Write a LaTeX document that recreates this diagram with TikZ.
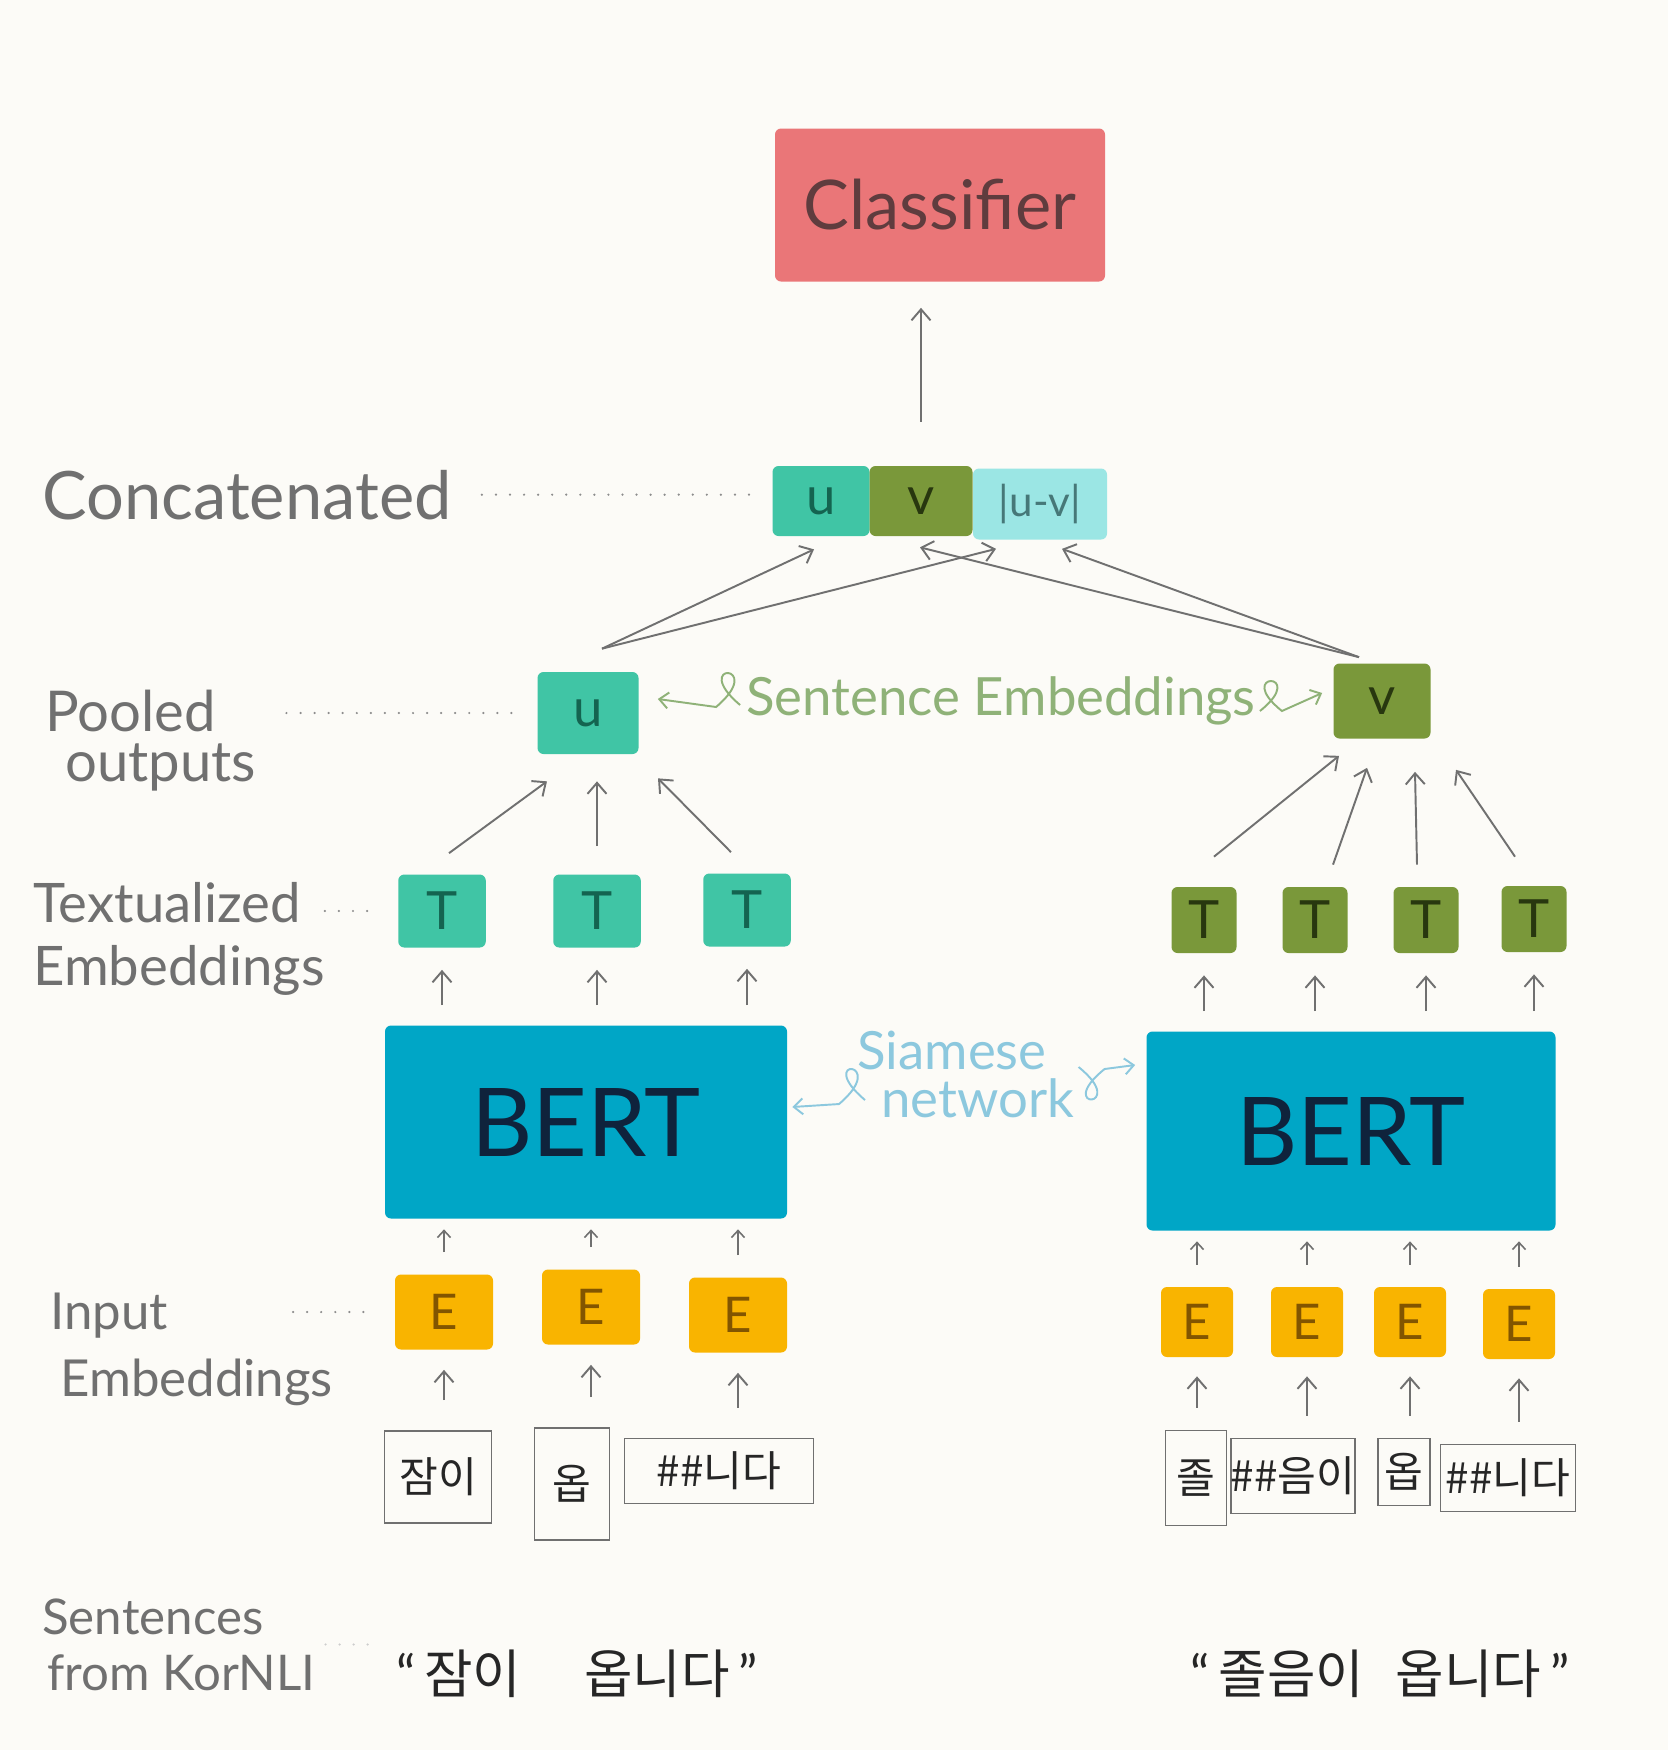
\documentclass[tikz,border=0pt]{standalone}
\usepackage{fontspec}
\setmainfont{Lato}
\newfontfamily\kr{Noto Sans CJK KR}
\usetikzlibrary{arrows.meta,calc}
\definecolor{paper}{RGB}{252,251,247}
\definecolor{pencil}{RGB}{112,112,112}
\definecolor{clsred}{RGB}{234,118,120}
\definecolor{clsink}{RGB}{95,60,62}
\definecolor{teal}{RGB}{64,197,165}
\definecolor{tealink}{RGB}{20,100,80}
\definecolor{olive}{RGB}{122,152,58}
\definecolor{oliveink}{RGB}{40,55,15}
\definecolor{sky}{RGB}{155,230,228}
\definecolor{skyink}{RGB}{70,120,120}
\definecolor{bert}{RGB}{0,166,198}
\definecolor{bertink}{RGB}{15,35,60}
\definecolor{amber}{RGB}{249,180,0}
\definecolor{amberink}{RGB}{130,85,0}
\definecolor{leaf}{RGB}{143,178,120}
\definecolor{ice}{RGB}{140,200,222}
\tikzset{
  arr/.style={-{Straight Barb[length=2.2mm,width=3.8mm]},draw=pencil,line width=1.1pt},
  sarr/.style={-{Straight Barb[length=1.4mm,width=2.6mm]},draw=pencil,line width=0.9pt},
  dotline/.style={draw=pencil!80,line width=1.4pt,line cap=round,dash pattern=on 0pt off 8pt},
  lab/.style={text=pencil,align=left,inner sep=0pt},
  box/.style={rounded corners=1.2mm,inner sep=0pt,font=\fontsize{30}{30}\selectfont},
  tok/.style={draw=pencil,line width=1pt,inner sep=0pt,text=black!85,font=\kr\fontsize{24}{26}\selectfont},
  curl/.style={line width=1.1pt,-{Straight Barb[length=1.8mm,width=3.2mm]}}
}
\begin{document}
\begin{tikzpicture}[x=0.2mm,y=-0.2mm]
  \fill[paper] (0,0) rectangle (1668,1750);
  \useasboundingbox (0,0) rectangle (1668,1750);

  \node[box,fill=clsred,text=clsink,minimum width=66mm,minimum height=30.6mm,font=\fontsize{39}{40}\selectfont] (cls) at (940,205) {Classifier};

  \node[box,fill=teal,text=tealink,minimum width=19.4mm,minimum height=14mm] (cu) at (821,501) {u};
  \node[box,fill=olive,text=oliveink,minimum width=20.6mm,minimum height=14mm] (cv) at (921,501) {v};
  \node[box,fill=sky,text=skyink,minimum width=26.8mm,minimum height=14.2mm,font=\fontsize{24}{24}\selectfont] (cd) at (1040,504) {|u-v|};
  \node[lab,anchor=base west,font=\fontsize{38}{40}\selectfont] (lconcat) at (42,519) {Concatenated};
  \draw[dotline,shorten <=6mm,shorten >=2.8mm] (lconcat.east) -- (lconcat.east -| cu.west);
  \draw[arr,shorten <=8.8mm,shorten >=5.2mm] (cv.north) -- (cv.north |- cls.south);

  \node[box,fill=teal,text=tealink,minimum width=20.2mm,minimum height=16.4mm] (pu) at (588,713) {u};
  \node[box,fill=olive,text=oliveink,minimum width=19.4mm,minimum height=15mm] (pv) at (1382,701) {v};
  \node[lab,anchor=north west,font=\fontsize{32}{28.5}\selectfont] (lpool) at (45,690) {Pooled\\\hspace*{4mm}outputs};
  \draw[dotline,shorten <=6mm,shorten >=5mm] (lpool.east |- pu.west) -- (pu.west);
  \draw[arr] ($(pu.north)+(14,-23)$) -- ($(cu.south)+(-7,13)$);
  \draw[arr] ($(pu.north)+(14,-23)$) -- ($(cd.south)+(-44,9)$);
  \draw[arr] ($(pv.north)+(-23,-6)$) -- ($(cv.south)+(-1,11)$);
  \draw[arr] ($(pv.north)+(-23,-6)$) -- ($(cd.south)+(22,9)$);

  \node[text=leaf,inner sep=0pt,font=\fontsize{30}{30}\selectfont] (sent) at (1001,701) {Sentence Embeddings};
  \draw[curl,leaf] ($(sent.west)+(-6,4)$) .. controls +(-52,-44) and +(52,-44) .. ++(-24,2) -- ($(pu.east)+(19,-14)$);
  \draw[curl,leaf] ($(sent.east)+(4,10)$) .. controls +(50,-40) and +(-50,-40) .. ++(22,0) -- ($(pv.west)+(-11,-8)$);

  \foreach \n/\x/\y in {tl1/442/911,tl2/597/911,tl3/747/910}{
    \node[box,fill=teal,text=tealink,minimum width=17.5mm,minimum height=14.6mm] (\n) at (\x,\y) {T};
  }
  \foreach \n/\x/\y in {tr1/1204/920,tr2/1315/920,tr3/1426/920,tr4/1534/919}{
    \node[box,fill=olive,text=oliveink,minimum width=13mm,minimum height=13.2mm] (\n) at (\x,\y) {T};
  }
  \node[lab,anchor=north west,font=\fontsize{31}{36}\selectfont] (ltext) at (33,882) {Textualized\\Embeddings};
  \draw[dotline,shorten >=5.6mm] (ltext.east |- tl1.west) -- (tl1.west);
  \draw[arr] ($(tl1.north)+(7,-21)$) -- ($(pu.south)+(-41,27)$);
  \draw[arr] ($(tl2.north)+(0,-28)$) -- ($(pu.south)+(9,27)$);
  \draw[arr] ($(tl3.north)+(-16,-21)$) -- ($(pu.south)+(70,24)$);
  \draw[arr] ($(tr1.north)+(10,-30)$) -- ($(pv.south)+(-43,17)$);
  \draw[arr] ($(tr2.north)+(18,-22)$) -- ($(pv.south)+(-15,29)$);
  \draw[arr] ($(tr3.north)+(-9,-22)$) -- ($(pv.south)+(33,33)$);
  \draw[arr] ($(tr4.north)+(-19,-29)$) -- ($(pv.south)+(74,31)$);

  \node[box,fill=bert,text=bertink,minimum width=80.4mm,minimum height=38.6mm,font=\fontsize{54}{54}\selectfont] (bertl) at (586,1122) {BERT};
  \node[box,fill=bert,text=bertink,minimum width=81.8mm,minimum height=39.8mm,font=\fontsize{54}{54}\selectfont] (bertr) at (1351,1131) {BERT};
  \foreach \t/\b in {tl1/bertl,tl2/bertl,tl3/bertl,tr1/bertr,tr2/bertr,tr3/bertr,tr4/bertr}{
    \draw[arr,shorten <=4mm,shorten >=4.4mm] (\t.south |- \b.north) -- (\t.south);
  }

  \node[lab,anchor=north west,text=ice,font=\fontsize{30}{27}\selectfont] (siam) at (857,1031) {Siamese\\\hspace*{4.8mm}network};
  \draw[curl,ice] ($(siam.south west)+(8,-18)$) .. controls +(-52,-44) and +(52,-44) .. ++(-26,4) -- ($(bertl.east)+(5,-15)$);
  \draw[curl,ice] ($(siam.north east)+(4,36)$) .. controls +(52,42) and +(-52,42) .. ++(26,2) -- ($(bertr.west)+(-11,-66)$);

  \foreach \n/\x/\y in {el1/444/1312,el2/591/1307,el3/738/1315}{
    \node[box,fill=amber,text=amberink,minimum width=19.6mm,minimum height=15mm,font=\fontsize{28}{28}\selectfont] (\n) at (\x,\y) {E};
  }
  \foreach \n/\x/\y in {er1/1197/1322,er2/1307/1322,er3/1410/1322,er4/1519/1324}{
    \node[box,fill=amber,text=amberink,minimum width=14.4mm,minimum height=14mm,font=\fontsize{28}{28}\selectfont] (\n) at (\x,\y) {E};
  }
  \foreach \e/\b in {el1/bertl,el2/bertl,el3/bertl,er1/bertr,er2/bertr,er3/bertr,er4/bertr}{
    \draw[sarr,shorten <=4.4mm,shorten >=2.1mm] (\e.north) -- (\e.north |- \b.south);
  }
  \node[lab,anchor=north west,font=\fontsize{29}{38}\selectfont] (linput) at (50,1293) {Input\\\hspace*{2mm}Embeddings};
  \draw[dotline,shorten >=5.8mm] ($(linput.north east |- el1.west)+(-40,0)$) -- (el1.west);

  \node[tok,minimum width=21.4mm,minimum height=18.4mm] (k1) at (438,1477) {잠이};
  \node[tok,minimum width=15mm,minimum height=22.4mm] (k2) at (572,1484) {옵};
  \node[tok,minimum width=37.8mm,minimum height=13mm] (k3) at (719,1471) {\#\#니다};
  \node[tok,minimum width=12.2mm,minimum height=19mm] (k4) at (1196,1478) {졸};
  \node[tok,minimum width=22.8mm,minimum height=15mm] (k5) at (1293,1476) {\#\#음이};
  \node[tok,minimum width=10.4mm,minimum height=13.4mm] (k6) at (1404,1472) {옵};
  \node[tok,minimum width=27mm,minimum height=13.4mm] (k7) at (1508,1478) {\#\#니다};
  \foreach \e/\k in {el1/k1,el2/k2,el3/k3}{
    \draw[arr,shorten <=6mm,shorten >=4mm] (\e.south |- \k.north) -- (\e.south);
  }
  \foreach \e/\k in {er1/k4,er2/k5,er3/k6,er4/k7}{
    \draw[arr,shorten <=4.4mm,shorten >=3.8mm] (\e.south |- \k.north) -- (\e.south);
  }

  \node[inner sep=0pt,text=black!85,font=\fontsize{30}{30}\selectfont] (sl) at (577,1674) {“\,{\kr 잠이\hspace{1.2em}옵니다}\,”};
  \node[inner sep=0pt,text=black!85,font=\fontsize{30}{30}\selectfont] (sr) at (1380,1674) {“\,{\kr 졸음이\hspace{0.6em}옵니다}\,”};
  \node[lab,anchor=north west,font=\fontsize{28}{32}\selectfont] (lsent) at (42,1598) {Sentences\\\hspace*{1mm}from KorNLI};
  \draw[dotline,draw=pencil!35,shorten <=2mm,shorten >=4mm] (lsent.east) -- (lsent.east -| sl.west);
\end{tikzpicture}
\end{document}
